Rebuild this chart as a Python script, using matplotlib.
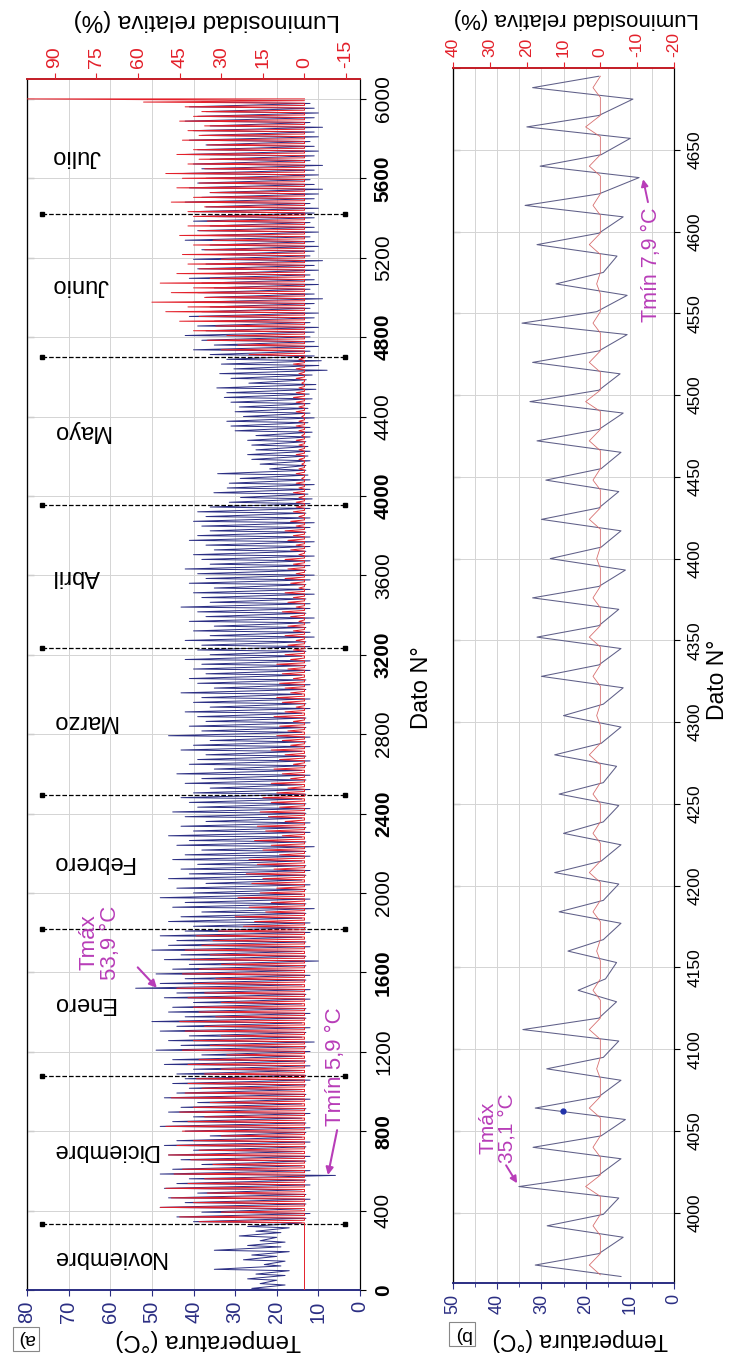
import matplotlib.pyplot as plt
from matplotlib.ticker import MultipleLocator

plt.rcParams['font.family'] = ['Liberation Sans', 'DejaVu Sans']
plt.rcParams['axes.unicode_minus'] = False

# hourly records: Dato N° = hour index, 332 = 1 Dec 00:00, first day = 17 Nov
month_names = ['Noviembre', 'Diciembre', 'Enero', 'Febrero', 'Marzo',
               'Abril', 'Mayo', 'Junio', 'Julio']
month_bounds = [332, 1076, 1820, 2492, 3236, 3956, 4700, 5420]
day0 = -4

# daily maximum temperature (°C)
tmax_nov = [26, 24, 27, 25, 35, 23, 28, 26, 35, 27, 24, 29, 25, 27]
tmax_dic = [40, 44, 38, 48, 42, 46, 39, 47, 44, 41, 48, 45, 38, 43, 46, 40,
            47, 44, 36, 42, 48, 45, 40, 46, 43, 39, 47, 44, 41, 45, 42]
tmax_ene = [44, 40, 47, 45, 38, 49, 43, 46, 41, 48, 44, 50, 42, 46, 45, 40,
            47, 44, 53.9, 48, 42, 49, 45, 41, 47, 43, 50, 46, 44, 48, 42]
tmax_feb = [40, 46, 43, 38, 45, 42, 48, 40, 44, 37, 46, 41, 43, 39, 45, 42,
            38, 44, 41, 46, 40, 43, 37, 42, 45, 39, 41, 43]
tmax_mar = [40, 36, 42, 38, 44, 35, 41, 39, 37, 43, 40, 36, 46, 38, 41, 37,
            39, 42, 36, 40, 38, 43, 35, 39, 41, 37, 40, 38, 42, 36, 39]
tmax_abr = [38, 42, 36, 40, 35, 41, 37, 39, 43, 36, 38, 40, 35, 41, 37, 39,
            42, 36, 38, 40, 35, 37, 41, 39, 36, 38, 40, 37, 39, 36]
tmax_jun = [36, 40, 35, 38, 42, 37, 39, 35, 41, 38, 36, 40, 37, 39, 35, 38,
            41, 36, 39, 37, 40, 35, 38, 36, 42, 37, 39, 36, 40, 38]
tmax_jul = [40, 37, 42, 38, 36, 41, 39, 37, 43, 38, 40, 36, 42, 39, 37, 41,
            38, 40, 36, 42, 39, 37, 41, 38]

# daily minimum temperature (°C)
tmin_nov = [19, 18, 20, 18, 17, 19, 18, 20, 17, 19, 18, 20, 19, 17]
tmin_dic = [14, 13, 12, 14, 13, 12, 13, 14, 12, 13, 5.9, 12, 14, 13, 12, 14,
            13, 12, 14, 13, 12, 13, 14, 12, 13, 14, 12, 13, 14, 13, 12]
tmin_ene = [13, 14, 12, 13, 14, 12, 13, 11, 14, 13, 12, 14, 13, 12, 13, 14,
            12, 13, 12, 14, 13, 12, 14, 13, 10, 13, 14, 12, 13, 14, 12]
tmin_feb = [13, 12, 14, 13, 11, 13, 12, 14, 13, 12, 14, 13, 12, 13, 14, 12,
            13, 11, 13, 14, 12, 13, 12, 14, 13, 12, 13, 14]
tmin_mar = [13, 12, 14, 13, 12, 14, 13, 12, 13, 14, 12, 13, 12, 14, 13, 12,
            13, 14, 12, 13, 12, 14, 13, 12, 13, 14, 12, 13, 12, 14, 13]
tmin_abr = [12, 13, 11, 12, 13, 12, 11, 13, 12, 12, 13, 11, 12, 13, 12, 11,
            13, 12, 12, 11, 13, 12, 11, 12, 13, 12, 11, 12, 13, 12]
tmin_jun = [11, 12, 10, 11, 12, 11, 10, 12, 11, 10, 12, 11, 9, 11, 12, 10,
            11, 12, 10, 11, 9, 12, 11, 10, 11, 12, 10, 11, 12, 11]
tmin_jul = [11, 10, 12, 11, 10, 9, 11, 12, 10, 11, 9, 12, 11, 10, 11, 12,
            10, 11, 9, 12, 11, 10, 11, 12]

# daily maximum relative luminosity (%)
lum_nov = [0] * 14
lum_dic = [38, 45, 30, 52, 40, 48, 35, 50, 42, 36, 47, 44, 33, 41, 49, 38,
           46, 40, 30, 44, 50, 42, 36, 45, 40, 34, 48, 43, 37, 42, 39]
lum_ene = [36, 30, 42, 38, 28, 44, 34, 40, 30, 43, 36, 45, 32, 38, 40, 30,
           42, 36, 46, 40, 32, 44, 38, 30, 41, 34, 43, 37, 33, 39, 31]
lum_feb = [22, 18, 25, 14, 20, 12, 24, 16, 10, 19, 15, 21, 11, 17, 20, 9,
           15, 12, 18, 8, 14, 17, 7, 13, 16, 9, 12, 15]
lum_mar = [10, 6, 12, 5, 8, 11, 4, 9, 7, 12, 5, 8, 10, 6, 9, 4,
           11, 7, 3, 8, 10, 5, 7, 9, 4, 8, 6, 10, 5, 7, 4]
lum_abr = [6, 3, 7, 4, 6, 2, 5, 8, 3, 6, 4, 7, 2, 5, 7, 3,
           6, 4, 7, 2, 5, 3, 6, 4, 7, 3, 5, 2, 4, 3]
lum_jun = [20, 30, 24, 35, 28, 40, 32, 45, 38, 50, 42, 55, 36, 48, 40, 52,
           34, 46, 38, 42, 30, 44, 36, 40, 33, 45, 38, 42, 35, 40]
lum_jul = [42, 36, 48, 40, 34, 46, 38, 44, 50, 36, 42, 38, 46, 40, 35, 44,
           38, 42, 36, 45, 40, 37, 43, 58]

# May in detail (panel b): readings at ~05 h, ~12 h, ~19 h, and daily luminosity
may_min = [12, 11.5, 12.5, 12, 11, 12, 12.5, 13, 13, 12, 12.5, 12, 12.5, 13, 12,
           11.5, 12, 12.5, 11, 12, 12.5, 12, 11.5, 12.2, 10.6, 10.6, 12.9, 11.5,
           7.9, 9.9, 9.3]
may_max = [31.4, 28.7, 35.1, 31.9, 31.4, 28.8, 34.2, 21.7, 24, 26, 27, 25, 26,
           27, 25, 30, 31, 32, 28, 30, 29, 31, 32.6, 32, 34.4, 26.7, 31, 33.7,
           30.3, 33.3, 32]
may_eve = [17, 16, 17, 16.5, 17, 16, 17, 15.5, 16, 16, 16.5, 16, 16, 16.5, 16,
           17, 17, 17, 16.5, 17, 16.5, 17, 17, 17, 17.5, 16, 17, 17, 16.5, 17, 17]
may_lum = [3, 2, 4, 2, 3, 1, 3, 2, 1, 2, 3, 2, 2, 3, 1, 2, 3, 2, 1, 3, 2, 3, 4,
           3, 2, 1, 3, 2, 3, 4, 2]

tmax_all = tmax_nov + tmax_dic + tmax_ene + tmax_feb + tmax_mar + tmax_abr + may_max + tmax_jun + tmax_jul
tmin_all = tmin_nov + tmin_dic + tmin_ene + tmin_feb + tmin_mar + tmin_abr + may_min + tmin_jun + tmin_jul
lum_all = lum_nov + lum_dic + lum_ene + lum_feb + lum_mar + lum_abr + may_lum + lum_jun + lum_jul

# build the hourly traces from the daily readings
t_dato, t_val = [], []
for k, (lo, hi) in enumerate(zip(tmin_all, tmax_all)):
    t_dato += [day0 + 24 * k + 5, day0 + 24 * k + 12]
    t_val += [lo, hi]
l_dato, l_val = [], []
for k, hi in enumerate(lum_all):
    l_dato += [day0 + 24 * k + 6, day0 + 24 * k + 12, day0 + 24 * k + 19]
    l_val += [0, hi, 0]
l_dato += [6000, 6000]
l_val += [100, 0]

may_start = month_bounds[5]
b_dato, b_val = [], []
for k in range(len(may_max)):
    b_dato += [may_start + 24 * k + 5, may_start + 24 * k + 12, may_start + 24 * k + 19]
    b_val += [may_min[k], may_max[k], may_eve[k]]
bl_dato, bl_val = [], []
for k, hi in enumerate(may_lum):
    bl_dato += [may_start + 24 * k + 6, may_start + 24 * k + 12, may_start + 24 * k + 19]
    bl_val += [0, hi, 0]

NAVY = '#2b2e83'
RED = '#e3202a'
MAG = '#b83db8'

fig = plt.figure(figsize=(7.32, 13.58), dpi=100)


def style_panel(ax, axl, tmax, lmin, lmax, dmin, dmax, dstep, fs_dato, fs_temp, fs_lum):
    ax.set_xlim(tmax, 0)
    ax.set_ylim(dmin, dmax)
    axl.set_xlim(lmax, lmin)
    ax.yaxis.tick_right()
    ax.yaxis.set_major_locator(MultipleLocator(dstep))
    ax.tick_params(axis='y', direction='out', length=4, right=True, left=False,
                   labelsize=fs_dato, labelrotation=90, pad=6)
    ax.tick_params(axis='x', direction='out', length=4, colors=NAVY,
                   labelsize=fs_temp, labelrotation=90, pad=4)
    axl.tick_params(axis='x', direction='out', length=4, colors=RED,
                    labelsize=fs_lum, labelrotation=90, pad=4)
    ax.spines['bottom'].set_color(NAVY)
    axl.spines['bottom'].set_color(NAVY)
    axl.spines['top'].set_color(RED)
    for sp in ['bottom', 'top']:
        ax.spines[sp].set_linewidth(1.2)
        axl.spines[sp].set_linewidth(1.2)
    for lbl in ax.get_yticklabels():
        lbl.set_va('center')
    sec = ax.secondary_yaxis('left')
    sec.yaxis.set_major_locator(MultipleLocator(dstep))
    sec.tick_params(direction='in', length=5, labelleft=False)
    ax.set_axisbelow(True)
    ax.grid(True, color='#d4d4d4', lw=0.7)


# ---------------- panel a ----------------
axa = fig.add_axes([0.0369, 0.0501, 0.4549, 0.8917])
axa_l = axa.twiny()
style_panel(axa, axa_l, 80, -20, 100, 0, 6100, 400, 15, 14.5, 14)
axa.set_xticks(range(0, 81, 10))
axa_l.set_xticks(range(-15, 91, 15))
axa_l.set_xlim(100, -20)
axa.set_yticks(range(0, 6001, 400))
for lbl, v in zip(axa.get_yticklabels(), range(0, 6001, 400)):
    if v % 800 == 0:
        lbl.set_fontweight('bold')

axa.plot(t_val, t_dato, color=NAVY, lw=0.7, zorder=3)
axa_l.plot(l_val, l_dato, color=RED, lw=0.7, zorder=4)

for s in month_bounds:
    axa.plot([76.5, 3.5], [s, s], color='black', ls='--', lw=0.9,
             marker='s', ms=3.5, zorder=5)
edges = [0] + month_bounds + [6000]
for name, lo, hi in zip(month_names, edges[:-1], edges[1:]):
    axa.text(74, (lo + hi) / 2, name, rotation=180, ha='left', va='center',
             fontsize=17, color='black', zorder=6)

arrow_a = dict(arrowstyle='-|>', color=MAG, lw=1.5, mutation_scale=11, shrinkA=0, shrinkB=0)
axa.text(62.5, 1750, 'Tmáx\n53,9 °C', rotation=90, ha='center', va='center',
         color=MAG, fontsize=16, linespacing=1.0, zorder=7)
axa.annotate('', xy=(48.8, 1522), xytext=(53.4, 1625), arrowprops=arrow_a, zorder=7)
axa.text(5.8, 1125, 'Tmín 5,9 °C', rotation=90, ha='center', va='center',
         color=MAG, fontsize=16, zorder=7)
axa.annotate('', xy=(7.7, 579), xytext=(5.5, 805), arrowprops=arrow_a, zorder=7)

fig.text(422 / 732, 1 - 688 / 1358, 'Dato N°', rotation=90, ha='center', va='center', fontsize=17)
fig.text(208 / 732, 1 - 1340 / 1358, 'Temperatura (°C)', rotation=180, ha='center', va='center', fontsize=17.5)
fig.text(207 / 732, 1 - 20 / 1358, 'Luminosidad relativa (%)', rotation=180, ha='center', va='center', fontsize=17.5)
fig.text(26 / 732, 1 - 1339 / 1358, 'a)', rotation=180, ha='center', va='center', fontsize=14,
         bbox=dict(boxstyle='square,pad=0.2', fc='white', ec='#888888', lw=0.8))

# ---------------- panel b ----------------
axb = fig.add_axes([0.6189, 0.0552, 0.3019, 0.8947])
axb_l = axb.twiny()
style_panel(axb, axb_l, 50, -20, 40, 3957, 4700, 50, 12.5, 13, 12.5)
axb.set_xticks(range(0, 51, 10))
axb.xaxis.set_minor_locator(MultipleLocator(5))
axb.tick_params(axis='x', which='minor', length=3, colors=NAVY)
axb.grid(True, which='minor', axis='x', color='#d4d4d4', lw=0.7)
axb_l.set_xticks(range(-20, 41, 10))
axb_l.set_xlim(40, -20)
axb.set_yticks(range(4000, 4651, 50))

axb.plot(b_val, b_dato, color='#5f5f88', lw=0.75, zorder=3)
axb_l.plot(bl_val, bl_dato, color='#d87070', lw=0.6, zorder=4)
axb.plot([25.1], [4062], 'o', color='#2233aa', ms=3.5, zorder=5)

arrow_b = dict(arrowstyle='-|>', color=MAG, lw=1.4, mutation_scale=10, shrinkA=0, shrinkB=0)
axb.text(40, 4052, 'Tmáx\n35,1 °C', rotation=90, ha='center', va='center',
         color=MAG, fontsize=15, linespacing=1.0, zorder=7)
axb.annotate('', xy=(35.5, 4018), xytext=(38, 4029), arrowprops=arrow_b, zorder=7)
axb.text(5, 4580, 'Tmín 7,9 °C', rotation=90, ha='center', va='center',
         color=MAG, fontsize=15.5, zorder=7)
axb.annotate('', xy=(7.0, 4632), xytext=(5.9, 4618), arrowprops=arrow_b, zorder=7)

fig.text(718 / 732, 1 - 680 / 1358, 'Dato N°', rotation=90, ha='center', va='center', fontsize=16.5)
fig.text(580 / 732, 1 - 1340 / 1358, 'Temperatura (°C)', rotation=180, ha='center', va='center', fontsize=16.5)
fig.text(576 / 732, 1 - 19 / 1358, 'Luminosidad relativa (%)', rotation=180, ha='center', va='center', fontsize=16)
fig.text(462 / 732, 1 - 1334 / 1358, 'b)', rotation=180, ha='center', va='center', fontsize=14,
         bbox=dict(boxstyle='square,pad=0.2', fc='white', ec='#888888', lw=0.8))

fig.savefig('out.png', dpi=100)
